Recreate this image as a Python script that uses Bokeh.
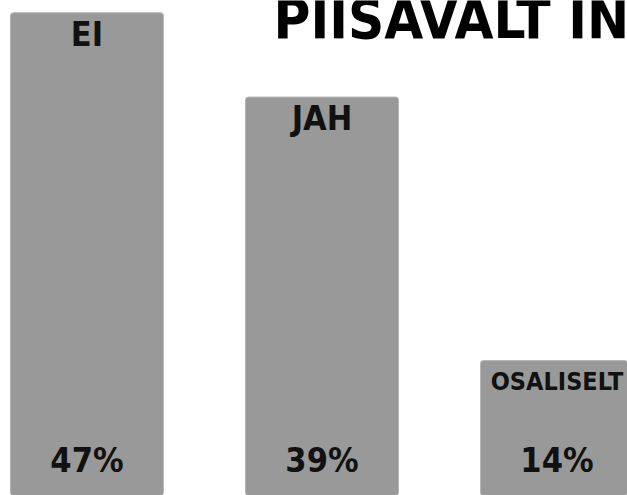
from bokeh.plotting import figure
from bokeh.models import Range1d, ColumnDataSource, Label
from bokeh.core.properties import value
from bokeh.embed import file_html
from bokeh.resources import INLINE

# Data
categories = ["EI", "JAH", "OSALISELT"]
percents = [47, 39, 14]
pct_labels = ["47%", "39%", "14%"]
title_text = "PIISAVALT INTEGREERUNUD"

FONT = "DejaVu Sans Condensed"

positions = [i + 0.5 for i in range(len(categories))]
cat_sizes = ["34px" if len(c) < 6 else "25px" for c in categories]
src = ColumnDataSource(dict(x=positions, top=percents, cat=categories,
                            pct=pct_labels, zero=[0] * len(categories),
                            csize=cat_sizes))

W, H = 627, 495
p = figure(width=W, height=H, output_backend="svg", toolbar_location=None,
           x_range=Range1d(0.132, 0.132 + W / 235.0),
           y_range=Range1d(1.2, 48.16), min_border=0)
p.axis.visible = False
p.grid.visible = False
p.outline_line_color = None
p.background_fill_color = "white"
p.border_fill_color = "white"

p.vbar(x="x", top="top", bottom=0, width=0.651, source=src,
       fill_color="#999999", line_color="#b5b5b5", line_width=1,
       border_radius=3)

p.text(x="x", y="top", text="cat", source=src, text_align="center",
       text_baseline="alphabetic", y_offset=21, text_font=value(FONT),
       text_font_style="bold", text_font_size="csize", text_color="#111111")

p.text(x="x", y="zero", text="pct", source=src, text_align="center",
       text_baseline="alphabetic", y_offset=-48, text_font=value(FONT),
       text_font_style="bold", text_font_size="34px", text_color="#111111")

title = Label(x=273, y=H - 18, x_units="screen", y_units="screen",
              text=title_text, text_font=FONT, text_font_style="bold",
              text_font_size="56px", text_color="#000000",
              text_baseline="alphabetic")
p.add_layout(title)

open("out.html", "w").write(file_html(p, INLINE))
